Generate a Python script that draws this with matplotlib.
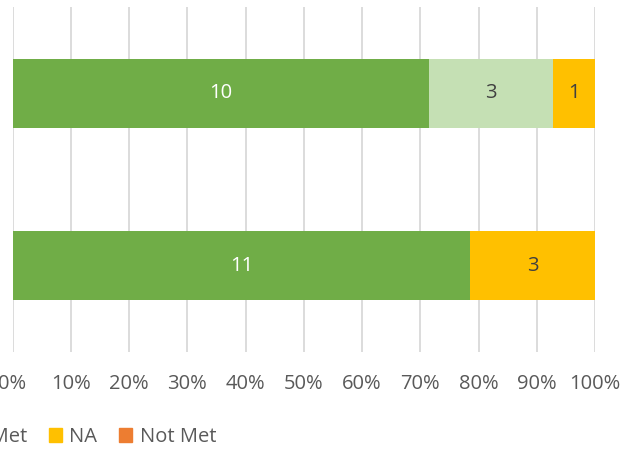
import numpy as np
import matplotlib.pyplot as plt
from matplotlib.patches import Patch

plt.rcParams['font.family'] = ['Open Sans', 'DejaVu Sans']

# data, two rows (top row first), counts per status
categories = ['A', 'B']
series = ['Met', 'Partially Met', 'NA', 'Not Met']
met = [10, 11]
partial = [3, 0]
na = [1, 3]
not_met = [0, 0]
ticks = [0, 10, 20, 30, 40, 50, 60, 70, 80, 90, 100]

colors = ['#70AD47', '#C5E0B4', '#FFC000', '#ED7D31']
label_colors = ['white', '#404040', '#404040', '#404040']
fs = 14.5

fig = plt.figure(figsize=(6.26, 4.49), dpi=100)
ax = fig.add_axes([12.5 / 626, 1 - 352 / 449, 582.5 / 626, 345 / 449])

vals = np.array([met, partial, na, not_met], dtype=float)
totals = vals.sum(axis=0)
frac = vals / totals
ypos = np.arange(len(categories))[::-1]  # top row at top

left = np.zeros(len(categories))
for i, name in enumerate(series):
    ax.barh(ypos, frac[i], left=left, height=0.4, color=colors[i], zorder=2)
    for j in range(len(categories)):
        if vals[i, j] > 0:
            ax.text(left[j] + frac[i, j] / 2, ypos[j], '%d' % vals[i, j],
                    ha='center', va='center', fontsize=fs, color=label_colors[i], zorder=3)
    left = left + frac[i]

ax.set_xlim(0, 1)
ax.set_ylim(-0.5, 1.5)
ax.set_xticks(np.array(ticks) / 100)
ax.set_xticklabels(['%d%%' % t for t in ticks], fontsize=fs, color='#595959')
ax.set_yticks([])
ax.tick_params(axis='x', length=0, pad=16)
ax.grid(axis='x', color='#D9D9D9', linewidth=1.3, zorder=0)
for s in ax.spines.values():
    s.set_visible(False)

handles = [Patch(color=c) for c in colors]
fig.legend(handles, series, loc='center right', bbox_to_anchor=(216 / 626, 1 - 437 / 449),
           ncol=4, frameon=False, fontsize=fs, handlelength=0.65, handleheight=0.65,
           handletextpad=0.35, columnspacing=1.1, labelcolor='#595959', borderaxespad=0,
           borderpad=0)

fig.savefig('out.png', dpi=100)
